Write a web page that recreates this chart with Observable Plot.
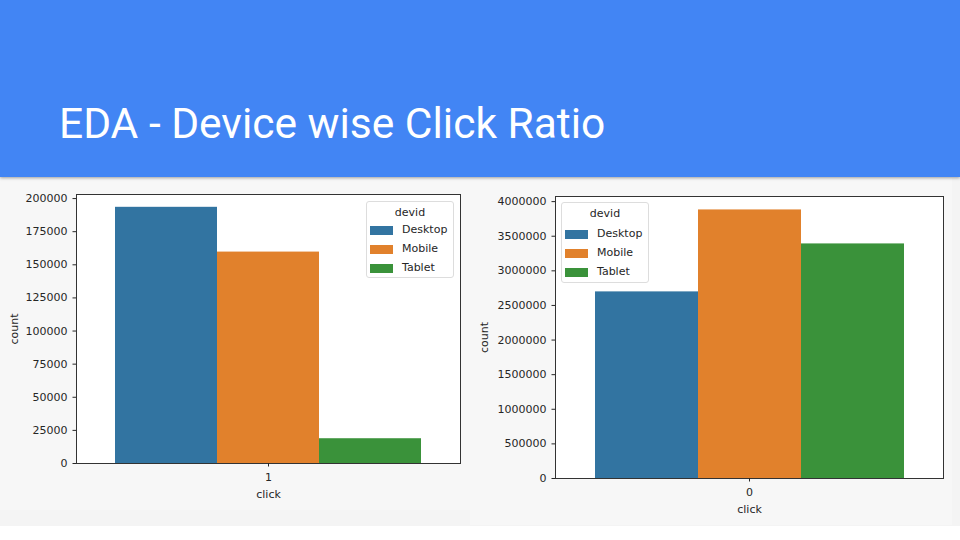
<!DOCTYPE html>
<html>
<head>
<meta charset="utf-8">
<script src="https://cdn.jsdelivr.net/npm/d3@7"></script>
<script src="https://cdn.jsdelivr.net/npm/@observablehq/plot@0.6"></script>
<style>
  html, body { margin: 0; padding: 0; }
  body { width: 960px; height: 540px; position: relative; overflow: hidden; background: #ffffff; font-family: "DejaVu Sans", sans-serif; }
  #header { position: absolute; left: 0; top: 0; width: 960px; height: 177px; background: #4285f4; box-shadow: 0 1px 3px rgba(0,0,0,0.35); z-index: 2; }
  #title { position: absolute; left: 59px; top: 103px; font-family: Roboto, sans-serif; font-size: 42.5px; color: #ffffff; white-space: nowrap; line-height: 1; }
  #band { position: absolute; left: 0; top: 177px; width: 960px; height: 349px; background: #f4f4f4; }
  .panel { position: absolute; }
  .panel svg { display: block; }
  .legend { position: absolute; background: rgba(255,255,255,0.85); border: 1px solid #dddddd; border-radius: 3px; box-sizing: border-box; font-family: "DejaVu Sans", sans-serif; font-size: 11px; color: #262626; }
  .legend .lt { position: absolute; left: 0; right: 0; text-align: center; }
  .legend .sw { position: absolute; width: 23px; height: 9px; }
  .legend .lb { position: absolute; }
</style>
</head>
<body>
<div id="header"><div id="title">EDA - Device wise Click Ratio</div></div>
<div id="band"></div>
<div id="left" class="panel" style="left:0px; top:178px; width:470px; height:332px; background:#f7f7f7;"></div>
<div id="right" class="panel" style="left:470px; top:178px; width:482px; height:347px; background:#f7f7f7;"></div>
<script>
const devices = ["Desktop", "Mobile", "Tablet"];
const deviceColors = ["#3274a1", "#e1812c", "#3a923a"];
const clickOneCounts = [193400, 159600, 18700];
const clickZeroCounts = [2696000, 3880000, 3389000];
const leftTicks = [0, 25000, 50000, 75000, 100000, 125000, 150000, 175000, 200000];
const rightTicks = [0, 500000, 1000000, 1500000, 2000000, 2500000, 3000000, 3500000, 4000000];

function countPlot(clickLabel, counts, ticks, opts) {
  const rows = devices.map((d, i) => ({devid: d, click: clickLabel, count: counts[i]}));
  const top = d3.max(counts) * 1.05;
  return Plot.plot({
    width: opts.width,
    height: opts.height,
    marginLeft: opts.ml,
    marginRight: opts.mr,
    marginTop: opts.mt,
    marginBottom: opts.mb,
    style: {background: "transparent", fontFamily: "DejaVu Sans, sans-serif", fontSize: "11px", color: "#262626"},
    fx: {domain: [clickLabel], padding: 0},
    x: {domain: devices, paddingInner: 0, paddingOuter: 0.375, axis: null},
    y: {domain: [0, top]},
    color: {domain: devices, range: deviceColors},
    marks: [
      Plot.frame({fill: "white"}),
      Plot.barY(rows, {fx: "click", x: "devid", y: "count", fill: "devid", inset: 0}),
      Plot.frame({stroke: "#333333", strokeWidth: 1}),
      Plot.axisY({ticks: ticks, tickFormat: d => String(d), tickSize: 3.5, tickPadding: 5.5, label: "count", labelAnchor: "center", labelArrow: "none", labelOffset: opts.yLabelOffset, fill: "#262626"}),
      Plot.axisFx({anchor: "bottom", tickSize: 3.5, tickPadding: 6, label: "click", labelAnchor: "center", labelArrow: "none", labelOffset: opts.xLabelOffset, fill: "#262626"})
    ]
  });
}

function makeLegend(container, pos) {
  const box = document.createElement("div");
  box.className = "legend";
  box.style.left = pos.x + "px";
  box.style.top = pos.y + "px";
  box.style.width = pos.w + "px";
  box.style.height = pos.h + "px";
  const t = document.createElement("div");
  t.className = "lt";
  t.style.top = "4px";
  t.textContent = "devid";
  box.appendChild(t);
  devices.forEach((d, i) => {
    const sw = document.createElement("div");
    sw.className = "sw";
    sw.style.left = "3px";
    sw.style.top = (pos.row0 + i * pos.step - 4.5) + "px";
    sw.style.background = deviceColors[i];
    box.appendChild(sw);
    const lb = document.createElement("div");
    lb.className = "lb";
    lb.style.left = "35px";
    lb.style.top = (pos.row0 + i * pos.step - 7) + "px";
    lb.textContent = d;
    box.appendChild(lb);
  });
  container.appendChild(box);
}

const left = document.getElementById("left");
left.appendChild(countPlot("1", clickOneCounts, leftTicks, {width: 470, height: 332, ml: 76, mr: 10, mt: 16, mb: 47, yLabelOffset: 66, xLabelOffset: 34}));
makeLegend(left, {x: 366, y: 23, w: 88, h: 77, row0: 28, step: 19});

const right = document.getElementById("right");
right.appendChild(countPlot("0", clickZeroCounts, rightTicks, {width: 482, height: 347, ml: 85, mr: 9, mt: 18, mb: 47, yLabelOffset: 75, xLabelOffset: 34}));
makeLegend(right, {x: 91, y: 24, w: 88, h: 81, row0: 31, step: 19});
</script>
</body>
</html>
